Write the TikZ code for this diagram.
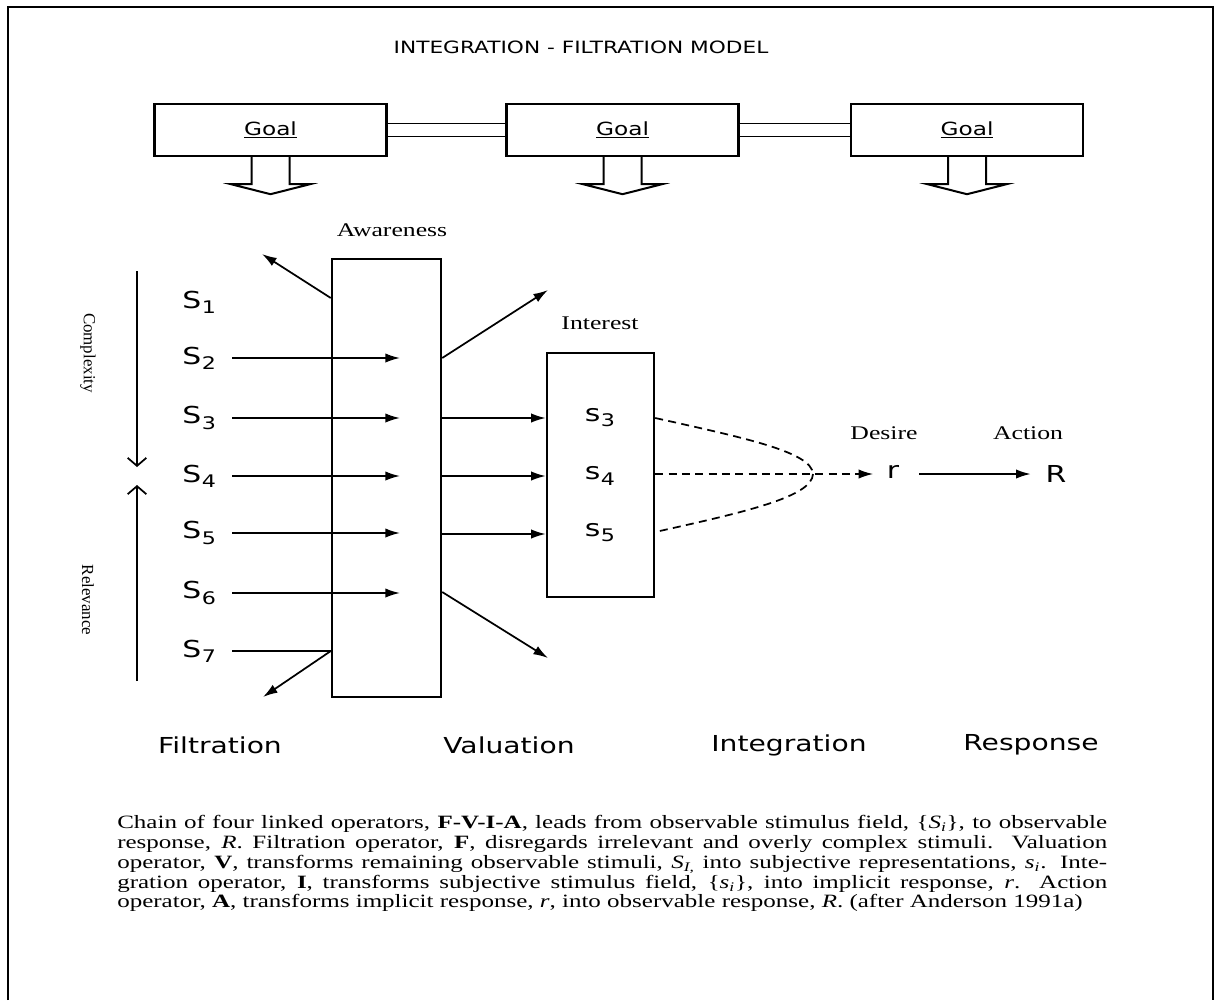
\documentclass[tikz,border=0pt]{standalone}
\usepackage{fontspec}
\setmainfont{Liberation Serif}
\newfontfamily\vsans[FakeStretch=1.28]{DejaVu Sans}
\newfontfamily\vserif[FakeStretch=1.33]{Liberation Serif}
\usetikzlibrary{arrows.meta,calc}
\newcommand\mysub[1]{\kern0.4pt\raisebox{-0.22em}{\fontsize{13}{13}\selectfont #1}}
\newcommand\itsub[2]{\textit{#1}\textsubscript{\textit{#2}}}
\begin{document}
\begin{tikzpicture}[x=0.75pt,y=-0.75pt,
  frame/.style={line width=1.8pt},
  box/.style={draw,line width=1.8pt,inner sep=0pt},
  arr/.style={line width=1.3pt,-{Latex[length=11pt,width=7pt]}},
  plainln/.style={line width=1.3pt},
  barb/.style={line width=1.3pt,-{Straight Barb[length=6pt,width=14pt]}},
  dsh/.style={line width=1.3pt,dash pattern=on 6pt off 4pt},
  titlefont/.style={font=\vsans\fontsize{12.7}{15}\selectfont},
  goalfont/.style={font=\vsans\fontsize{13.6}{16}\selectfont},
  stagefont/.style={font=\vsans\fontsize{16.5}{19}\selectfont},
  symfont/.style={font=\vsans\fontsize{17.5}{20}\selectfont,inner sep=0pt},
  serlbl/.style={font=\vserif\fontsize{14.5}{17}\selectfont},
  sidelbl/.style={font=\fontsize{12.7}{15}\selectfont,rotate=-90},
  goalbox/.style={box,minimum width=174pt,minimum height=39pt,goalfont},
  blockarrow/.style={line width=1.5pt,line join=miter}
  ]
\useasboundingbox (0,0) rectangle (1219,1000);
\draw[frame] (8,1000) -- (8,7) -- (1213,7) -- (1213,1000);

% title
\node[titlefont] (title) at (581,47) {INTEGRATION - FILTRATION MODEL};

% goals
\node[goalbox] (g1) at (270.5,130) {\underline{Goal}};
\node[goalbox] (g2) at (622.5,130) {\underline{Goal}};
\node[goalbox] (g3) at (967,130) {\underline{Goal}};
\draw[line width=1.2pt,double,double distance=8.4pt] (g1.east) -- (g2.west);
\draw[line width=1.2pt,double,double distance=8.4pt] (g2.east) -- (g3.west);
\foreach \g in {g1,g2,g3}
  \draw[blockarrow] ($(\g.south)+(-19,0)$) -- ++(0,27) -- ++(-20.5,0)
     -- ($(\g.south)+(0,37)$) -- ($(\g.south)+(39.5,27)$) -- ++(-20.5,0) -- ++(0,-27);

% awareness and interest boxes
\node[box,minimum width=81.75pt,minimum height=328.5pt] (aw) at (386.5,478) {};
\node[serlbl] (awl) at (392,230) {Awareness};
\node[box,minimum width=80.25pt,minimum height=183pt] (in) at (600.5,475) {};
\node[serlbl] (inl) at (600,323) {Interest};

% stimuli
\foreach \i/\y in {1/302,2/358,3/418,4/476,5/533,6/593,7/651}
  \node[symfont,anchor=west] (S\i) at (182,\y) {S\mysub{\i}};
\foreach \i/\y in {2/358,3/418,4/476,5/533,6/593}{
  \coordinate (p\i) at (400,\y);
  \draw[arr,shorten <=12pt] (S\i.east |- p\i) -- (p\i);
}
\coordinate (w7) at (aw.west |- 0,651);
\coordinate (x7) at (263,697);
\draw[plainln,shorten <=12pt] (S7.east |- w7) -- (w7);
\draw[arr] (w7) -- (x7);
\coordinate (w1) at (aw.west |- 0,298);
\coordinate (x1) at (262,254);
\draw[arr] (w1) -- (x1);
\coordinate (e2) at (aw.east |- 0,358);
\coordinate (y2) at (548,290);
\draw[arr] (e2) -- (y2);
\coordinate (e6) at (aw.east |- 0,592);
\coordinate (y6) at (548,658);
\draw[arr] (e6) -- (y6);
\foreach \y in {418,476,534}
  \draw[arr] (aw.east |- 0,\y) -- (in.west |- 0,\y);

% interest contents
\node[symfont] (v3) at (600,418) {s\mysub{3}};
\node[symfont] (v4) at (600,476) {s\mysub{4}};
\node[symfont] (v5) at (600,533) {s\mysub{5}};

% integration
\coordinate (vx) at (813,474);
\draw[dsh] (in.east |- 0,418) .. controls (745,438) and (812,452) .. (vx);
\draw[dsh] (vx) .. controls (812,497) and (745,512) .. (in.east |- 0,532);
\node[symfont] (r) at (893,472) {r};
\node[symfont] (R) at (1056,474) {R};
\draw[dsh,-{Latex[length=11pt,width=7pt]},shorten >=10pt] (in.east |- 0,474) -- (r.west |- 0,474);
\draw[arr,shorten <=15pt,shorten >=11pt] (r.east |- 0,474) -- (R.west |- 0,474);
\node[serlbl] (des) at (884,433) {Desire};
\node[serlbl] (act) at (1028,433) {Action};

% side arrows
\coordinate (c1) at (137,271);
\coordinate (c2) at (137,467);
\coordinate (c3) at (137,485);
\coordinate (c4) at (137,681);
\draw[barb] (c1) -- (c2);
\draw[barb] (c4) -- (c3);
\node[sidelbl] (cx) at (88,353) {Complexity};
\node[sidelbl] (rl) at (88,600) {Relevance};

% stage labels
\node[stagefont] (f) at (220,745) {Filtration};
\node[stagefont] (v) at (509,745) {Valuation};
\node[stagefont] (i) at (789,745) {Integration};
\node[stagefont] (a) at (1031,745) {Response};

% caption
\node[anchor=north west,inner sep=0pt,text width=742.5pt,align=justify,
      font=\vserif\fontsize{14.1}{14.9}\selectfont] (cap) at (117,815)
{Chain of four linked operators, \textbf{F-V-I-A}, leads from observable stimulus field, \{\itsub{S}{i}\}, to observable\linebreak
response, \textit{R}. Filtration operator, \textbf{F}, disregards irrelevant and overly complex stimuli. Valuation\linebreak
operator, \textbf{V}, transforms remaining observable stimuli, \itsub{S}{I,} into subjective representations, \itsub{s}{i}. Inte-\linebreak
gration operator, \textbf{I}, transforms subjective stimulus field, \{\itsub{s}{i}\}, into implicit response, \textit{r}. Action\linebreak
operator, \textbf{A}, transforms implicit response, \textit{r}, into observable response, \textit{R}. (after Anderson 1991a)};
\end{tikzpicture}
\end{document}
